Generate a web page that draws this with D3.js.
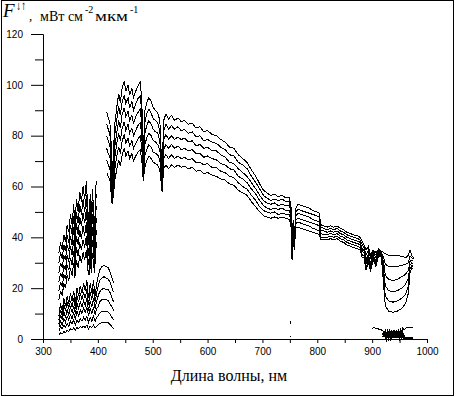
<!DOCTYPE html>
<html>
<head>
<meta charset="utf-8">
<script src="https://cdn.jsdelivr.net/npm/d3@7"></script>
<style>
body { margin: 0; background: #fff; }
svg { display: block; }
</style>
</head>
<body>
<svg id="chart" width="456" height="397"></svg>
<script>
// tick labels
var xTicks = [300, 400, 500, 600, 700, 800, 900, 1000];
var xMinor = [350, 450, 550, 650, 750, 850, 950];
var yTicks = [0, 20, 40, 60, 80, 100, 120];
var yMinor = [10, 30, 50, 70, 90, 110];

// F-down, 330-400 nm, six heights
var uvNm = [329,332,335,338,341,344,347,350,353,356,358,361,364,367,370,373,376,379,382,384,386,388,390,392,394,396,398];
var uv1 = [34,38,35,41,38,45,42,49,45,53,44,55,50,58,54,60,55,62,50,44,57,45,59,52,40,60,62];
var uv2 = [30,34,31.5,37,34.5,41,38,45,41,48.5,40,50,45.5,53,49,55,50,56.5,45.5,40,52,41,54,47.5,37,55,57];
var uv3 = [26,30,28,33,31,37,34.5,40.5,37,44,36,45.5,41,48,44.5,49.5,45.5,51,41,36.5,47,37.5,49,43,34.5,50,52.5];
var uv4 = [22.5,26,24,29,27,33,30.5,36.5,33,39,32,40.5,37,43,39.5,44.5,40.5,46,36,32.5,42,33.5,44,39,31.5,45,47.5];
var uv5 = [19,22.5,20.5,25.5,23.5,29,27,32,29,34.5,28,36,32.5,38,35,39,36,40.5,31.5,29,37,30,39,34.5,29,40,43];
var uv6 = [15.5,19,17,22,20,25,23,28,25,30,24,31,28,33,30,34,31,35,27,25,32,26,34,30,26,35,38];

// lower family, 330-430 nm
var lowNm = [329,332,335,338,341,344,347,350,353,356,359,362,365,368,371,374,377,380,383,386,389,392,395,398,400,403,407,411,415,419,423,427,429];
var low1 = [9,14,11,16,13,17,14,18,15,19,14,20,17,21,18,22,19,23,16,22,18,23,17,22,24,27,28.5,29,28.5,28,26,23,22];
var low2 = [7.5,11.5,9,13.5,11,14.5,12,15,12.5,16,12,17,14.5,18,15.5,18.5,16,19.5,13.5,18.5,15.5,19.5,14.5,18.5,20,23,24,24.5,24,23.5,22,19,18.5];
var low3 = [6,9.5,7.5,11,8.5,11.5,9.5,12.5,10.5,13,10,14,12,14.5,12.5,15,13,16,11,15,12.5,16,12,15,16.5,18.5,19.5,20,19.5,19.5,18,15.5,14.5];
var low4 = [4.5,7,5.5,8,6.5,9,7.5,9.5,8,10.5,7.5,11,9,11.5,10,12,10.5,12.5,9,12,10,12.5,9.5,12,12.5,14.5,15.5,15.5,15.5,15,13.5,12,11];
var low5 = [3,5,4,5.5,4.5,6,5,7,6,7.5,5.5,7.5,6.5,8,7,8.5,7.5,9,6.5,8.5,7,9,7,8.5,9,10,11,11,11,10.5,9.5,8,7.5];
var low6 = [1.5,2.5,2,3,2.5,3.5,3,4,3.5,4.5,3.5,4.5,4,5,4.5,5,4.5,5.5,4,5,4.5,5.5,4.5,5,5.5,6,6.5,6.5,6.5,6.5,5.5,4.5,4];

// main family, 416-975 nm
var mainNm = [416,419,422,424,426,428,431,435,438,441,
  444,448,451,455,458,462,465,469,473,477,
  480,483,485,489,493,497,501,505,509,513,
  517,520,524,529,534,540,546,552,558,565,
  572,579,586,593,600,608,616,624,632,640,
  648,656,664,672,680,688,695,702,708,715,
  722,729,736,743,749,752,754,756,758,761,
  765,771,778,785,792,799,804,806,812,818,
  824,830,836,842,848,854,860,866,874,878,
  882,885,889,893,897,902,907,912,917,921,
  924,930,938,946,954,961,966,969,972,975];
var main1 = [89.5,87,85,78,60,72,85,92,96.5,93,
  98.5,101.5,97.5,100,96,98.5,95,97.5,99.5,101,
  95,68,89,93,95,93.5,91,90,89,86,
  65,86,88.5,86.5,88,86,87,85.5,86,84.5,
  85,83,83.5,81.5,82,80.5,80,78.5,77.5,75.5,
  75,72.5,71,69.5,66.5,64,61,58.5,57.5,56.5,
  57,56,56.5,55.5,55.5,53,34,47,38,51.5,
  53,52.5,52,51.5,50.5,50,49.5,45,44.5,44,
  44.5,44,44.5,43.5,43,42,41.5,41,40.5,40,
  38.5,37,35,36.5,33,35,34,35.5,34.5,34,
  33.5,33,33,33,32.5,32,33,35,33,32];
var main2 = [84.5,82.5,80.5,74,58.5,69,80.5,87,91.5,88,
  93,96,92.5,95,91,93.5,90,92.5,94.5,95.5,
  90,67,84.5,88.5,90.5,89,86.5,86,85,82,
  63.5,82,84.5,82.5,84,82.5,83.5,82,82.5,81,
  81.5,79.5,80,78,78.5,77.5,77,75.5,74.5,72.5,
  72,69.5,68.5,67,64,61.5,59,56.5,55.5,54.5,
  55,54.5,55,54,54,51.5,33.5,46,37.5,50,
  51,50.5,50,49.5,49,48.5,48,44,43.5,43,
  43.5,43,43.5,42.5,42,41,40.5,40,39.5,39,
  37,36,33,35,32,34.5,33,35,34,32,
  29.5,28.5,28.5,28.5,29,29.5,30,32.5,32,31.5];
var main3 = [80,78,76,70,57,65.5,76,82,86,83,
  88,91,87.5,89.5,86,88,85,87.5,89,90.5,
  85,65.5,80,84,86,84.5,82.5,81.5,81,78,
  62,78.5,80.5,78.5,80,78.5,79.5,78.5,79,77.5,
  78,76,76.5,75,75.5,74,74,72.5,71.5,69.5,
  69,67,65.5,64,61.5,59,56.5,54.5,53.5,53,
  53.5,52.5,53,52.5,52.5,50,33,44.5,37,48.5,
  49.5,49,48.5,48,47,46.5,46,42.5,42.5,42,
  42.5,42,42.5,41.5,41,40,39.5,39,38.5,38,
  35.5,35,31,33.5,30,34,32,34.5,33.5,30,
  25,23.5,23,23.5,24.5,25.5,27,30.5,31,30.5];
var main4 = [75,73,71.5,66,56,62.5,71.5,77.5,81,78,
  82.5,85.5,82,84.5,81,83,80,82,84,85,
  80.5,64.5,76,79,81,80,78,77.5,76.5,74.5,
  61,74.5,76.5,75,76.5,75,76,74.5,75,74,
  74.5,73,73,71.5,72,71,70.5,69,68.5,67,
  66.5,64,63,61.5,59,57,54.5,52.5,51.5,51,
  51.5,51,51.5,50.5,50.5,48,32,43.5,36,47,
  47.5,47,46.5,46,45.5,45,44.5,41.5,41,41,
  41.5,41,41.5,40.5,40,39,38.5,38,37.5,37,
  34.5,34,29.5,32,29,33,30.5,34,33,27,
  21,19,18.5,19,20,21.5,24,29,30,29.5];
var main5 = [70.5,68.5,67,62,54.5,59,67,72.5,75.5,73,
  77.5,80.5,77,79,76,78,75,77,78.5,80,
  75.5,63,71.5,74.5,76.5,75.5,73.5,73,72.5,70.5,
  59.5,71,72.5,71,72.5,71,72,71,71.5,70.5,
  71,69.5,69.5,68.5,69,67.5,67.5,66,65.5,64,
  63.5,61.5,60,59,56.5,54.5,52,50.5,50,49.5,
  50,49,49.5,49,49,46.5,31.5,42,35.5,45.5,
  46,45.5,45,44.5,43.5,43,42.5,40,40,40,
  40.5,40,40.5,39.5,39,38,37.5,37,36.5,36,
  33,33,28,31,28,32,29.5,33.5,32.5,24,
  17,15,14.5,15,16,17.5,21,27.5,29,28.5];
var main6 = [65.5,64,62.5,58,53,56,62.5,67.5,70.5,68,
  72,75,72,74,71,73,70,72,73.5,74.5,
  70.5,62,67,70,72,71,69.5,69,68.5,66.5,
  58,67,68.5,67,68.5,67.5,68.5,67.5,68,67,
  67.5,66,66.5,65,65.5,64.5,64,63,62.5,61,
  60.5,58.5,57.5,56.5,54,52,50,48.5,48,47.5,
  48,47.5,48,47.5,47,45,31,41,35,44,
  44,43.5,43,42.5,42,41.5,41,39,39,39,
  39.5,39,39.5,38.5,38,37,36.5,36,35.5,35,
  32,32,27,30,27,31,28.5,33,32,21,
  13,11,10.5,11,12,14,18,26,28,27.5];

// upward flux near the 940 nm band
var reflNm = [900,905,910,915,920,922,924,926,928,930,932,934,936,938,940,942,944,946,948,950,952,954,956,958,962,966,970,975];
var refl1 = [4.3,4.4,4.0,3.8,3.2,2.5,3.5,1.5,3.3,1.2,3.5,1.0,3.4,1.2,3.6,1.0,3.5,1.3,3.8,1.5,4.2,2.0,4.5,3.5,4.3,4.6,4.4,4.5];
var refl2 = [null,null,null,null,1.5,3.0,0.8,2.8,0.6,2.9,0.5,3.0,0.5,2.8,0.5,3.0,0.6,2.9,0.7,3.0,0.8,2.8,1.0,0.5,0.4,0.4,0.4,0.4];
var refl3 = [null,null,null,null,0.8,1.5,2.0,0.6,2.2,0.8,2.3,0.7,2.4,0.6,2.5,0.8,2.6,0.7,2.5,0.8,2.2,1.0,1.8,1.0,null,null,null,null];

// stray points at the O2 band
var o2Nm = [751, 752];
var o2a = [6.0, 7.2];
var o2b = [1.0, 1.0];

var svg = d3.select('#chart');

var x = d3.scaleLinear().domain([300, 1000]).range([43, 427]);
var y = d3.scaleLinear().domain([0, 120]).range([339, 34]);

function zip(nm, vals) {
  return nm.map(function(d, i) { return [d, vals[i]]; });
}

var series = [
  zip(uvNm, uv1), zip(uvNm, uv2), zip(uvNm, uv3), zip(uvNm, uv4), zip(uvNm, uv5), zip(uvNm, uv6),
  zip(lowNm, low1), zip(lowNm, low2), zip(lowNm, low3), zip(lowNm, low4), zip(lowNm, low5), zip(lowNm, low6),
  zip(mainNm, main1), zip(mainNm, main2), zip(mainNm, main3), zip(mainNm, main4), zip(mainNm, main5), zip(mainNm, main6),
  zip(o2Nm, o2a), zip(o2Nm, o2b)
];
var blob = [zip(reflNm, refl1), zip(reflNm, refl2), zip(reflNm, refl3)];

var line = d3.line()
  .defined(function(d) { return d[1] != null; })
  .x(function(d) { return x(d[0]); })
  .y(function(d) { return y(d[1]); });

// outer frame
svg.append('rect')
  .attr('x', 1.5).attr('y', 0.5)
  .attr('width', 452).attr('height', 395)
  .attr('fill', 'none').attr('stroke', '#000');

// axes
function styleAxis(g) {
  g.attr('font-family', '"Liberation Sans", Arial, sans-serif')
    .attr('font-size', 10)
    .style('color', '#000');
}

svg.append('g')
  .attr('transform', 'translate(0,339)')
  .call(d3.axisBottom(x).tickValues(xMinor).tickSize(4).tickSizeOuter(0).tickFormat(''))
  .call(styleAxis);
svg.append('g')
  .attr('transform', 'translate(0,339)')
  .call(d3.axisBottom(x).tickValues(xTicks).tickSize(4).tickPadding(5).tickSizeOuter(0).tickFormat(d3.format('d')))
  .call(styleAxis);

svg.append('g')
  .attr('transform', 'translate(43,0)')
  .call(d3.axisLeft(y).tickValues(yMinor).tickSize(8).tickSizeOuter(0).tickFormat(''))
  .call(styleAxis);
svg.append('g')
  .attr('transform', 'translate(43,0)')
  .call(d3.axisLeft(y).tickValues(yTicks).tickSize(12).tickPadding(8).tickSizeOuter(0))
  .call(styleAxis);

// curves
svg.append('g')
  .selectAll('path')
  .data(series)
  .join('path')
  .attr('d', line)
  .attr('fill', 'none')
  .attr('stroke', '#000')
  .attr('stroke-width', 1)
  .attr('shape-rendering', 'crispEdges');

svg.append('g')
  .selectAll('path')
  .data(blob)
  .join('path')
  .attr('d', line)
  .attr('fill', 'none')
  .attr('stroke', '#000')
  .attr('stroke-width', function(d, i) { return i === 0 ? 1 : 2.5; })
  .attr('shape-rendering', 'crispEdges');

// x title
svg.append('text')
  .attr('x', 229).attr('y', 381)
  .attr('text-anchor', 'middle')
  .attr('font-family', '"Liberation Serif", "Times New Roman", serif')
  .attr('font-size', 16)
  .text('Длина волны, нм');

// y title
var serif = '"Liberation Serif", "Times New Roman", serif';
var t = svg.append('g').attr('font-family', serif).attr('fill', '#000');
t.append('text').attr('x', 3).attr('y', 17).attr('font-size', 19).attr('font-style', 'italic').text('F');
t.append('text').attr('x', 16).attr('y', 10).attr('font-size', 10)
  .attr('textLength', 10).attr('lengthAdjust', 'spacingAndGlyphs')
  .attr('font-family', '"DejaVu Serif", serif').text('↓↑');
t.append('text').attr('x', 29).attr('y', 20).attr('font-size', 13).text(',');
t.append('text').attr('x', 40).attr('y', 21).attr('font-size', 14)
  .attr('textLength', 43).attr('lengthAdjust', 'spacingAndGlyphs').text('мВт см');
t.append('text').attr('x', 85).attr('y', 13).attr('font-size', 10).text('-2');
t.append('text').attr('x', 95).attr('y', 21).attr('font-size', 14)
  .attr('textLength', 33).attr('lengthAdjust', 'spacingAndGlyphs').text('мкм');
t.append('text').attr('x', 130).attr('y', 13).attr('font-size', 10).text('-1');
</script>
</body>
</html>
